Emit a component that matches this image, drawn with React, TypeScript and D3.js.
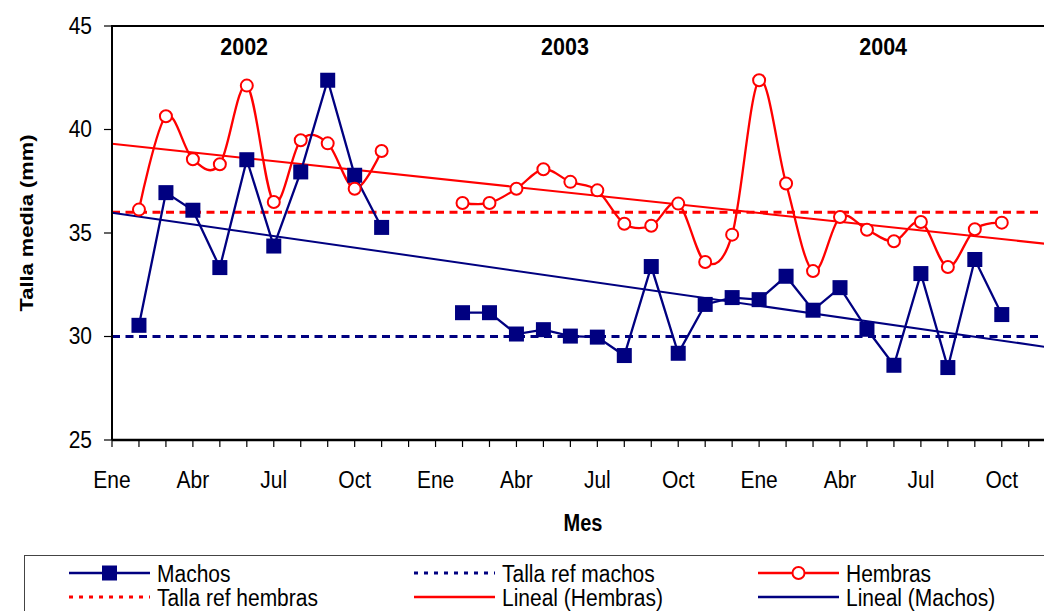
import React from 'react';
import * as d3 from 'd3';

// monthly samples (yyyy-mm); Dec 2002 / Jan 2003 missing
const periods = [
  '2002-02', '2002-03', '2002-04', '2002-05', '2002-06', '2002-07', '2002-08', '2002-09', '2002-10', '2002-11',
  '2003-02', '2003-03', '2003-04', '2003-05', '2003-06', '2003-07', '2003-08', '2003-09', '2003-10', '2003-11', '2003-12',
  '2004-01', '2004-02', '2004-03', '2004-04', '2004-05', '2004-06', '2004-07', '2004-08', '2004-09', '2004-10',
];
const machos = [
  30.54, 36.95, 36.1, 33.33, 38.54, 34.37, 37.95, 42.38, 37.79, 35.27,
  31.15, 31.15, 30.12, 30.33, 30.02, 29.97, 29.08, 33.38, 29.19, 31.55, 31.88,
  31.78, 32.91, 31.27, 32.36, 30.35, 28.61, 33.04, 28.5, 33.72, 31.06,
];
const hembras = [
  36.13, 40.64, 38.56, 38.32, 42.12, 36.5, 39.48, 39.33, 37.14, 38.96,
  36.45, 36.45, 37.14, 38.08, 37.47, 37.06, 35.45, 35.35, 36.42, 33.6, 34.92,
  42.38, 37.39, 33.16, 35.77, 35.16, 34.6, 35.53, 33.36, 35.18, 35.5,
];
const refMachos = 30;
const refHembras = 36;
const monthNames = ['Ene', 'Feb', 'Mar', 'Abr', 'May', 'Jun', 'Jul', 'Ago', 'Sep', 'Oct', 'Nov', 'Dic'];
const years = ['2002', '2003', '2004'];
const yearLabelAt = [4.9, 16.8, 28.6]; // month index of the year captions
const yTicks = [25, 30, 35, 40, 45];

const navy = '#000080';
const red = '#FF0000';
const FONT = '"Liberation Sans", Arial, Helvetica, sans-serif';
const SY = 1.15; // the original is a little stretched vertically

const W = 1044, H = 611;
const x0 = 112;

const monthIndex = (p: string) => {
  const [y, m] = p.split('-').map(Number);
  return (y - 2002) * 12 + (m - 1);
};

const xs = periods.map(monthIndex);
const x = d3.scaleLinear().domain([0, 34.64]).range([x0, 1046]);
const y = d3.scaleLinear().domain([25, 45]).range([440, 26]);

function fit(vals: number[]) {
  const mx = d3.mean(xs)!, my = d3.mean(vals)!;
  let sxy = 0, sxx = 0;
  xs.forEach((v, i) => { sxy += (v - mx) * (vals[i] - my); sxx += (v - mx) * (v - mx); });
  const b = sxy / sxx;
  return { a: my - b * mx, b };
}

// break the series where a month is missing
function withGaps(vals: number[]) {
  const pts: { m: number; v: number | null }[] = [];
  xs.forEach((m, i) => {
    if (i > 0 && m - xs[i - 1] > 1) pts.push({ m: m - 1, v: null });
    pts.push({ m, v: vals[i] });
  });
  return pts;
}

function T({ x: tx, y: ty, children, size = 21, bold = false, anchor = 'start', rotate = 0 }: any) {
  const tr = rotate
    ? `translate(${tx},${ty}) rotate(${rotate}) scale(${SY},1)`
    : `translate(${tx},${ty}) scale(1,${SY})`;
  return (
    <text transform={tr} fontSize={size} fontWeight={bold ? 'bold' : 'normal'} textAnchor={anchor} fill="#000">
      {children}
    </text>
  );
}

export default function App() {
  const straight = d3.line<{ m: number; v: number | null }>()
    .defined(d => d.v !== null)
    .x(d => x(d.m)).y(d => y(d.v as number));
  const smooth = d3.line<{ m: number; v: number | null }>()
    .defined(d => d.v !== null)
    .curve(d3.curveCardinal.tension(0))
    .x(d => x(d.m)).y(d => y(d.v as number));

  const tm = fit(machos);
  const th = fit(hembras);
  const [d0, d1] = x.domain();
  const dash = '8,5.5';
  const ticks = d3.range(0, 35);

  const legendRows = [573, 597];
  const legendCols = [69, 414, 758];
  const legendLen = 81;

  return (
    <svg width={W} height={H} style={{ position: 'absolute', left: 0, top: 0, fontFamily: FONT, background: '#fff' }}>
      <rect x={0} y={0} width={W} height={H} fill="#fff" />

      {/* reference lines */}
      <line x1={x0} x2={1040} y1={y(refHembras)} y2={y(refHembras)} stroke={red} strokeWidth={3} strokeDasharray={dash} />
      <line x1={x0} x2={1040} y1={y(refMachos)} y2={y(refMachos)} stroke={navy} strokeWidth={3} strokeDasharray={dash} />

      {/* trend lines */}
      <line x1={x(d0)} x2={x(d1)} y1={y(th.a + th.b * d0)} y2={y(th.a + th.b * d1)} stroke={red} strokeWidth={2} />
      <line x1={x(d0)} x2={x(d1)} y1={y(tm.a + tm.b * d0)} y2={y(tm.a + tm.b * d1)} stroke={navy} strokeWidth={2} />

      {/* Hembras */}
      <path d={smooth(withGaps(hembras)) || ''} fill="none" stroke={red} strokeWidth={2.3} />
      {/* Machos */}
      <path d={straight(withGaps(machos)) || ''} fill="none" stroke={navy} strokeWidth={2.3} />
      {xs.map((m, i) => (
        <rect key={'m' + i} x={x(m) - 7.5} y={y(machos[i]) - 7.5} width={15} height={15} fill={navy} />
      ))}
      {xs.map((m, i) => (
        <circle key={'h' + i} cx={x(m)} cy={y(hembras[i])} r={6} fill="#fff" stroke={red} strokeWidth={2} />
      ))}

      {/* frame */}
      <path d={`M${x0},440 V26 H1050`} fill="none" stroke="#000" strokeWidth={2} />
      <line x1={x0} x2={1050} y1={440} y2={440} stroke="#000" strokeWidth={2.5} />

      {/* y axis */}
      {yTicks.map(t => (
        <g key={t}>
          <line x1={x0 - 8} x2={x0} y1={y(t)} y2={y(t)} stroke="#000" strokeWidth={1.2} />
          <T x={92} y={y(t) + 7.5} anchor="end">{t}</T>
        </g>
      ))}

      {/* x axis */}
      {ticks.map(t => (
        <line key={t} x1={x(t)} x2={x(t)} y1={440} y2={447} stroke="#000" strokeWidth={1.2} />
      ))}
      {ticks.filter(t => t % 3 === 0).map(t => (
        <T key={'l' + t} x={x(t)} y={488} anchor="middle">{monthNames[t % 12]}</T>
      ))}

      {years.map((yr, i) => (
        <T key={yr} x={x(yearLabelAt[i])} y={55} size={21.5} bold anchor="middle">{yr}</T>
      ))}

      <T x={583} y={531} size={20} bold anchor="middle">Mes</T>
      <T x={33} y={223} size={19} bold anchor="middle" rotate={-90}>Talla media (mm)</T>

      {/* legend */}
      <rect x={24.5} y={555.5} width={1030} height={70} fill="none" stroke="#444" strokeWidth={1} />
      {/* Machos */}
      <line x1={legendCols[0]} x2={legendCols[0] + legendLen} y1={legendRows[0]} y2={legendRows[0]} stroke={navy} strokeWidth={2.3} />
      <rect x={legendCols[0] + legendLen / 2 - 7.5} y={legendRows[0] - 7.5} width={15} height={15} fill={navy} />
      <T x={legendCols[0] + legendLen + 7} y={legendRows[0] + 9}>Machos</T>
      {/* Talla ref machos */}
      <line x1={legendCols[1]} x2={legendCols[1] + legendLen} y1={legendRows[0]} y2={legendRows[0]} stroke={navy} strokeWidth={3} strokeDasharray="4,6" />
      <T x={legendCols[1] + legendLen + 7} y={legendRows[0] + 9}>Talla ref machos</T>
      {/* Hembras */}
      <line x1={legendCols[2]} x2={legendCols[2] + legendLen} y1={legendRows[0]} y2={legendRows[0]} stroke={red} strokeWidth={2.3} />
      <circle cx={legendCols[2] + legendLen / 2} cy={legendRows[0]} r={6} fill="#fff" stroke={red} strokeWidth={2} />
      <T x={legendCols[2] + legendLen + 7} y={legendRows[0] + 9}>Hembras</T>
      {/* Talla ref hembras */}
      <line x1={legendCols[0]} x2={legendCols[0] + legendLen} y1={legendRows[1]} y2={legendRows[1]} stroke={red} strokeWidth={3} strokeDasharray="4,6" />
      <T x={legendCols[0] + legendLen + 7} y={legendRows[1] + 9}>Talla ref hembras</T>
      {/* Lineal (Hembras) */}
      <line x1={legendCols[1]} x2={legendCols[1] + legendLen} y1={legendRows[1]} y2={legendRows[1]} stroke={red} strokeWidth={2.3} />
      <T x={legendCols[1] + legendLen + 7} y={legendRows[1] + 9}>Lineal (Hembras)</T>
      {/* Lineal (Machos) */}
      <line x1={legendCols[2]} x2={legendCols[2] + legendLen} y1={legendRows[1]} y2={legendRows[1]} stroke={navy} strokeWidth={2.3} />
      <T x={legendCols[2] + legendLen + 7} y={legendRows[1] + 9}>Lineal (Machos)</T>
    </svg>
  );
}
